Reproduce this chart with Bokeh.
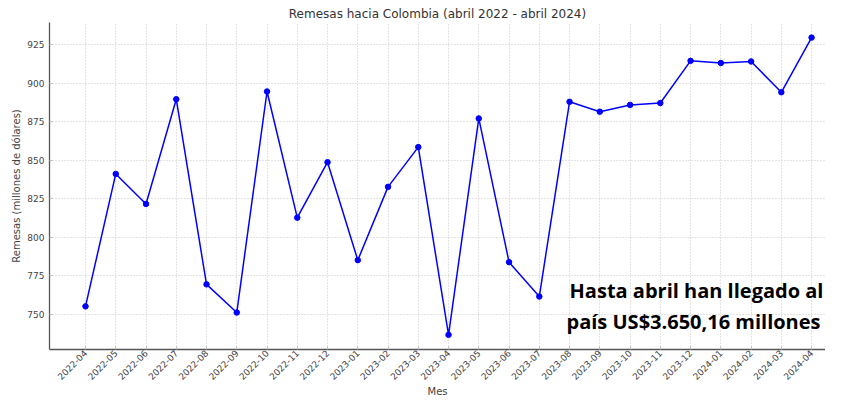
import math
from bokeh.plotting import figure
from bokeh.models import Range1d, FixedTicker, Label
from bokeh.embed import file_html
from bokeh.resources import INLINE

months = ["2022-04", "2022-05", "2022-06", "2022-07", "2022-08", "2022-09", "2022-10",
          "2022-11", "2022-12", "2023-01", "2023-02", "2023-03", "2023-04", "2023-05",
          "2023-06", "2023-07", "2023-08", "2023-09", "2023-10", "2023-11", "2023-12",
          "2024-01", "2024-02", "2024-03", "2024-04"]
remesas = [755.0, 841.0, 821.5, 889.5, 769.3, 751.0, 894.5, 812.6, 848.6, 785.0,
           832.6, 858.4, 736.5, 877.0, 783.7, 761.4, 887.8, 881.4, 885.8, 887.0,
           914.4, 913.0, 914.0, 894.0, 929.5]
y_ticks = [750, 775, 800, 825, 850, 875, 900, 925]
annot_lines = ["Hasta abril han llegado al", "país US$3.650,16 millones"]

x = list(range(len(months)))

p = figure(width=825, height=400, output_backend="svg", toolbar_location=None,
           x_range=Range1d(-1.19, 24.46), y_range=Range1d(727.0, 939.3),
           min_border_left=49, min_border_right=0, min_border_top=22, min_border_bottom=10)

p.title.text = "Remesas hacia Colombia (abril 2022 - abril 2024)"
p.title.align = "center"
p.title.text_font = "DejaVu Sans"
p.title.text_font_size = "12px"
p.title.text_font_style = "normal"
p.title.text_color = "#333333"
p.title.standoff = 3
p.title.offset = 0

p.outline_line_color = None
p.background_fill_color = "white"
p.border_fill_color = "white"

p.line(x, remesas, line_color="#0000ff", line_width=1.5)
p.scatter(x, remesas, size=5.5, fill_color="#0000ff", line_color="#0000ff")

p.xaxis.ticker = FixedTicker(ticks=x)
p.xaxis.major_label_overrides = {i: m for i, m in enumerate(months)}
p.xaxis.major_label_orientation = math.pi / 4
p.yaxis.ticker = FixedTicker(ticks=y_ticks)

for ax in (p.xaxis, p.yaxis):
    ax.axis_line_color = "#555555"
    ax.axis_line_width = 1.3
    ax.major_tick_in = 3
    ax.major_tick_out = 0
    ax.major_tick_line_color = "#bbbbbb"
    ax.minor_tick_line_color = None
    ax.major_label_text_font = "DejaVu Sans"
    ax.major_label_text_font_size = "9px"
    ax.major_label_text_color = "#444444"
    ax.axis_label_text_font = "DejaVu Sans"
    ax.axis_label_text_font_size = "10px"
    ax.axis_label_text_font_style = "normal"
    ax.axis_label_text_color = "#444444"

p.xaxis.axis_label = "Mes"
p.yaxis.axis_label = "Remesas (millones de dólares)"
p.xaxis.major_label_standoff = 2
p.xaxis.axis_label_standoff = 0
p.yaxis.major_label_standoff = 5
p.yaxis.axis_label_standoff = 2

for g in (p.xgrid, p.ygrid):
    g.grid_line_color = "#c8c8c8"
    g.grid_line_dash = "1 2"
    g.grid_line_width = 1

p.add_layout(Label(x=16.0, y=765.0, text=annot_lines[0], text_font="Open Sans",
                   text_font_style="bold", text_font_size="20px", text_color="black",
                   text_baseline="alphabetic"))
p.add_layout(Label(x=15.9, y=745.3, text=annot_lines[1], text_font="Open Sans",
                   text_font_style="bold", text_font_size="20px", text_color="black",
                   text_baseline="alphabetic"))

open("out.html", "w").write(file_html(p, INLINE))
